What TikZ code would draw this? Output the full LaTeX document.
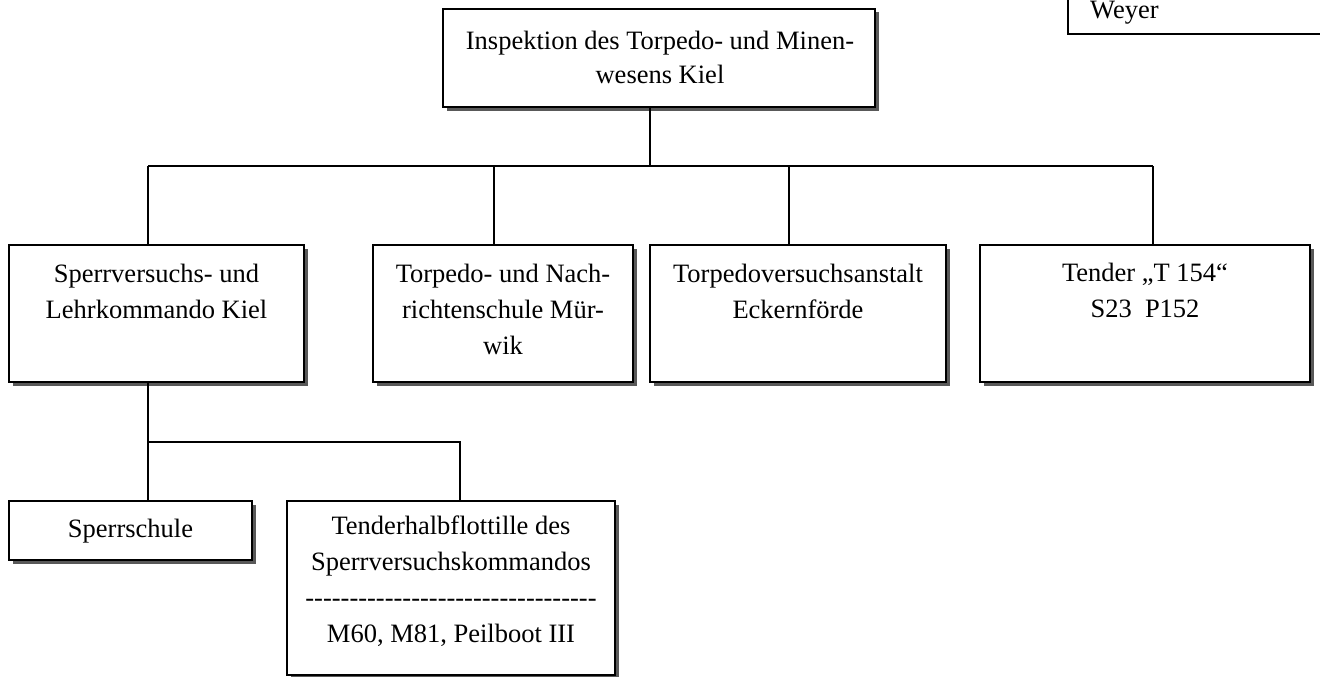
\documentclass[tikz,border=0pt]{standalone}
\usepackage{fontspec}
\setmainfont{Liberation Serif}
\usetikzlibrary{shadows}
\newcommand\hyp{\mbox{-}}
\newcommand\hypx{\hyp\hyp\hyp\hyp\hyp\hyp\hyp\hyp\hyp\hyp\hyp}
\begin{document}
\begin{tikzpicture}[x=1pt,y=-1pt,
  box/.style={draw, line width=1.4pt, fill=white, inner sep=0pt,
    drop shadow={shadow xshift=3.5pt, shadow yshift=-3.5pt, fill=black!65, opacity=1}},
  txt/.style={align=center, font=\fontsize{26.5}{36}\selectfont, inner sep=0pt, anchor=base},
  conn/.style={line width=1.4pt}]
\useasboundingbox (0,0) rectangle (1320,677);
\clip (0,0) rectangle (1320,677);
\fill[white] (0,0) rectangle (1320,677);

% connector coordinates
\coordinate (j0) at (650,166);
\coordinate (bA) at (148,166);
\coordinate (bB) at (494,166);
\coordinate (bC) at (789,166);
\coordinate (bD) at (1153,166);
\coordinate (kS) at (148,442);
\coordinate (kT) at (460,442);

% boxes
\node[box, minimum width=432pt, minimum height=98pt] (top) at (659,58) {};
\node[box, minimum width=295pt, minimum height=137pt] (A) at (156.5,313.5) {};
\node[box, minimum width=260pt, minimum height=137pt] (B) at (503,313.5) {};
\node[box, minimum width=296pt, minimum height=137pt] (C) at (798,313.5) {};
\node[box, minimum width=330pt, minimum height=137pt] (D) at (1145,313.5) {};
\node[box, minimum width=243pt, minimum height=59pt] (S) at (130.5,530.5) {};
\node[box, minimum width=328pt, minimum height=174pt] (T) at (451,588) {};

% connectors
\draw[conn] (top.south -| j0) -- (j0);
\draw[conn] (bA) -- (bD);
\draw[conn] (bA) -- (bA |- A.north);
\draw[conn] (bB) -- (bB |- B.north);
\draw[conn] (bC) -- (bC |- C.north);
\draw[conn] (bD) -- (bD |- D.north);
\draw[conn] (A.south -| kS) -- (kS) -- (kT) -- (kT |- T.north);
\draw[conn] (kS) -- (kS |- S.north);

% texts (anchor = baseline of the last line)
\node[txt, font=\fontsize{26.5}{34}\selectfont] (tTop) at (660,84) {Inspektion des Torpedo- und Minen-\\wesens Kiel};
\node[txt] (tA) at (156.5,318) {Sperrversuchs- und\\Lehrkommando Kiel};
\node[txt] (tB) at (503,354) {Torpedo- und Nach-\\richtenschule Mür-\\wik};
\node[txt] (tC) at (798,318) {Torpedoversuchsanstalt\\Eckernförde};
\node[txt] (tD) at (1145,317) {Tender „T 154“\\S23\ \ P152};
\node[txt] (tS) at (130.5,537) {Sperrschule};
\node[txt] (tT) at (451,642) {Tenderhalbflottille des\\Sperrversuchskommandos\\\hypx\hypx\hypx\\M60, M81, Peilboot III};

% Weyer box (cut off at the page edge)
\node[txt, anchor=base west] (weyer) at (1090,19) {Weyer};
\draw[line width=2.4pt] (1068,-10) -- (1068,34) -- (1330,34);
\end{tikzpicture}
\end{document}
